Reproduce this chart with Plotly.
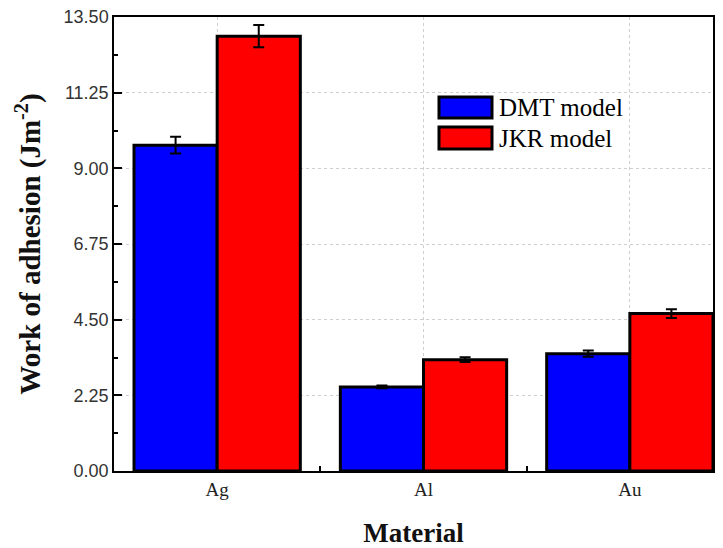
import plotly.graph_objects as go

categories = ["Ag", "Al", "Au"]
dmt_values = [9.69, 2.50, 3.49]
dmt_errors = [0.25, 0.04, 0.09]
jkr_values = [12.93, 3.31, 4.68]
jkr_errors = [0.33, 0.07, 0.13]
series_names = ["DMT model", "JKR model"]
y_ticks = [0, 2.25, 4.5, 6.75, 9.0, 11.25, 13.5]

W, H = 723, 548
L, R, T, B = 114, 10, 17, 77
pw, ph = W - L - R, H - T - B

xpos = list(range(len(categories)))

fig = go.Figure()
for name, vals, errs, color in [
    (series_names[0], dmt_values, dmt_errors, "#0000FF"),
    (series_names[1], jkr_values, jkr_errors, "#FF0000"),
]:
    fig.add_trace(go.Bar(
        x=xpos, y=vals, name=name,
        marker=dict(color=color, line=dict(color="black", width=3)),
        error_y=dict(type="data", array=errs, visible=True,
                     color="black", thickness=2, width=5.5),
        showlegend=False,
    ))

def px_x(p):
    return (p - L) / pw

def px_y(p):
    return (H - B - p) / ph

shapes = []
annotations = []
legend_items = [(series_names[0], "#0000FF", 97, 118), (series_names[1], "#FF0000", 127, 149)]
for name, color, y0, y1 in legend_items:
    shapes.append(dict(type="rect", xref="paper", yref="paper",
                       x0=px_x(439), x1=px_x(492), y0=px_y(y1), y1=px_y(y0),
                       fillcolor=color, line=dict(color="black", width=3)))
    annotations.append(dict(xref="paper", yref="paper", x=px_x(497), y=px_y((y0 + y1) / 2),
                            text=name, showarrow=False, xanchor="left", yanchor="middle",
                            font=dict(family="Liberation Serif, Times New Roman, serif", size=25, color="black")))

fig.update_layout(
    width=W, height=H,
    margin=dict(l=L, r=R, t=T, b=B, autoexpand=False),
    paper_bgcolor="white", plot_bgcolor="white",
    barmode="group", bargap=0.194, bargroupgap=0,
    shapes=shapes, annotations=annotations,
    xaxis=dict(
        range=[-0.5, 2.403],
        tickvals=xpos, ticktext=categories,
        ticks="", showgrid=True, gridcolor="#cfcfcf", griddash="dot", gridwidth=1,
        showline=True, linecolor="black", linewidth=1.5, mirror=True,
        tickfont=dict(family="Liberation Serif, Times New Roman, serif", size=19, color="#222"),
        minor=dict(tickvals=[0.5, 1.5], ticks="inside", ticklen=5, tickcolor="black",
                   tickwidth=1.5, showgrid=False),
        title=dict(text="<b>Material</b>", standoff=27,
                   font=dict(family="Liberation Serif, Times New Roman, serif", size=27, color="#111")),
        zeroline=False, automargin=False,
    ),
    yaxis=dict(
        range=[0, 13.5], tickvals=y_ticks, tickformat=".2f",
        ticks="inside", ticklen=8, tickwidth=1.5, tickcolor="black",
        showgrid=True, gridcolor="#cfcfcf", griddash="dot", gridwidth=1,
        showline=True, linecolor="black", linewidth=1.5, mirror=True,
        tickfont=dict(family="Liberation Sans, Arial, sans-serif", size=18, color="#333"),
        minor=dict(dtick=1.125, tick0=0, ticks="inside", ticklen=4, tickcolor="black",
                   tickwidth=1.5, showgrid=False),
        title=dict(text="<b>Work of adhesion (Jm<sup>-2</sup>)</b>", standoff=14,
                   font=dict(family="Liberation Serif, Times New Roman, serif", size=29, color="#111")),
        zeroline=False, automargin=False,
    ),
)

fig.write_html("out.html", config={"displayModeBar": False},
               post_script="document.body.style.margin='0';")
